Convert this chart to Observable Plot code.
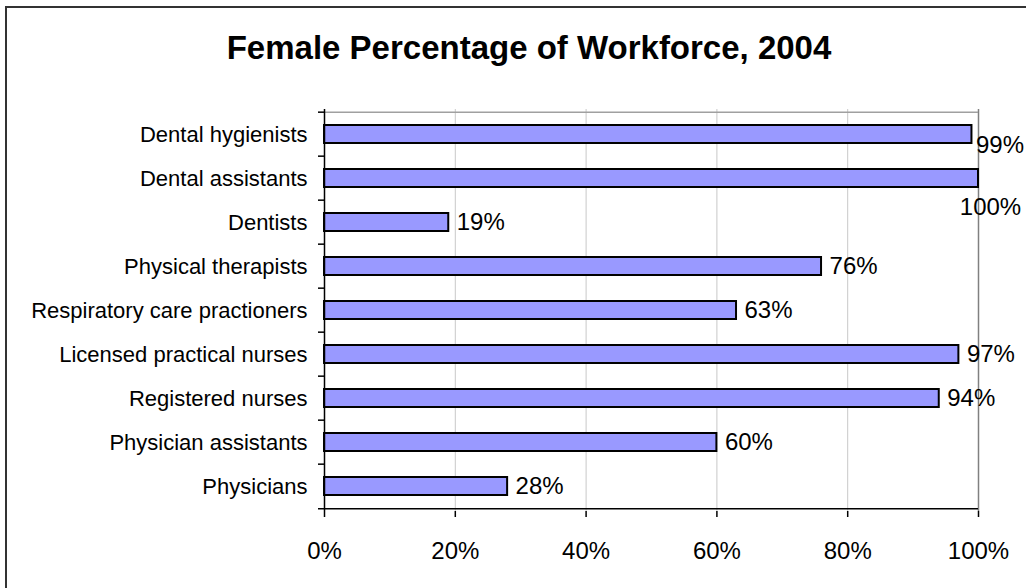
<!DOCTYPE html>
<html>
<head>
<meta charset="utf-8">
<script src="https://cdn.jsdelivr.net/npm/d3@7"></script>
<script src="https://cdn.jsdelivr.net/npm/@observablehq/plot@0.6"></script>
<style>
  html, body { margin: 0; padding: 0; background: #fff; }
  #wrap { position: relative; width: 1026px; height: 588px; overflow: hidden; font-family: "Liberation Sans", Arial, sans-serif; }
  #border { position: absolute; left: 5px; top: 6px; width: 1100px; height: 700px; border-left: 2px solid #333; border-top: 2px solid #333; pointer-events: none; }
  #title { height: 90px; box-sizing: border-box; padding-top: 31px; padding-left: 32px; text-align: center; font-size: 33px; line-height: 33px; font-weight: bold; color: #000; }
  svg { display: block; }
</style>
</head>
<body>
<div id="wrap">
  <div id="border"></div>
  <div id="title">Female Percentage of Workforce, 2004</div>
  <div id="chart"></div>
</div>
<script>
const categories = [
  "Dental hygienists",
  "Dental assistants",
  "Dentists",
  "Physical therapists",
  "Respiratory care practioners",
  "Licensed practical nurses",
  "Registered nurses",
  "Physician assistants",
  "Physicians"
];
const values = [99, 100, 19, 76, 63, 97, 94, 60, 28];
const xTicks = [0, 0.2, 0.4, 0.6, 0.8, 1];

const data = categories.map((c, i) => ({category: c, value: values[i] / 100}));
const fmt = d3.format(".0%");

const W = 1026, H = 498, mt = 19, mb = 77, ml = 324, mr = 48;
const step = (H - mt - mb) / categories.length;

const chart = Plot.plot({
  width: W,
  height: H,
  marginTop: mt,
  marginBottom: mb,
  marginLeft: ml,
  marginRight: mr,
  style: {fontFamily: "'Liberation Sans', Arial, sans-serif", color: "#000", background: "#fff", overflow: "visible"},
  x: {domain: [0, 1], label: null},
  y: {domain: categories, paddingInner: 0.6, paddingOuter: 0.3, label: null},
  marks: [
    Plot.ruleX(xTicks.filter(t => t > 0 && t < 1), {stroke: "#c8c8c8", strokeWidth: 1}),
    Plot.ruleX([1], {stroke: "#808080", strokeWidth: 1.5}),
    Plot.ruleY([categories[0]], {x1: 0, x2: 1, dy: -step / 2, stroke: "#a0a0a0", strokeWidth: 1.5}),
    Plot.barX(data, {y: "category", x: "value", fill: "#9999ff", stroke: "#000", strokeWidth: 2}),
    Plot.ruleX([0], {stroke: "#000", strokeWidth: 1.5}),
    Plot.ruleY(categories, {x1: 0, x2: 0, dy: -step / 2, insetLeft: -6, stroke: "#000", strokeWidth: 1.5}),
    Plot.ruleY([categories[categories.length - 1]], {x1: 0, x2: 1, dy: step / 2, insetLeft: -6, stroke: "#000", strokeWidth: 1.5}),
    Plot.axisY({tickSize: 0, tickPadding: 17, fontSize: 22, label: null}),
    Plot.axisX({ticks: xTicks, tickFormat: fmt, tickSize: 6, tickPadding: 24, fontSize: 24, strokeWidth: 1.5, label: null}),
    Plot.text(data.filter(d => d.value < 0.99), {x: "value", y: "category", text: d => fmt(d.value), textAnchor: "start", dx: 8, fontSize: 24}),
    Plot.text(data.filter(d => d.value === 0.99), {x: "value", y: "category", text: d => fmt(d.value), textAnchor: "start", dx: 4, dy: 11, fontSize: 24}),
    Plot.text(data.filter(d => d.value === 1), {x: "value", y: "category", text: d => fmt(d.value), textAnchor: "middle", dx: 12, dy: 29, fontSize: 24})
  ]
});
document.getElementById("chart").appendChild(chart);
</script>
</body>
</html>
